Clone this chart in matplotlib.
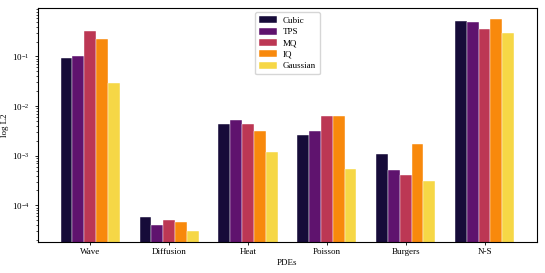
import matplotlib
matplotlib.use('Agg')
import matplotlib.pyplot as plt
import numpy as np

plt.rcParams['font.family'] = ['Liberation Serif', 'DejaVu Serif']
plt.rcParams['mathtext.fontset'] = 'stix'

pdes = ['Wave', 'Diffusion', 'Heat', 'Poisson', 'Burgers', 'N-S']
kernels = ['Cubic', 'TPS', 'MQ', 'IQ', 'Gaussian']

# log L2 error per kernel, one value per PDE
cubic    = [0.095, 5.9e-5, 4.3e-3, 2.6e-3, 1.08e-3, 0.51]
tps      = [0.10,  4.1e-5, 5.2e-3, 3.2e-3, 5.2e-4,  0.49]
mq       = [0.32,  5.0e-5, 4.3e-3, 6.2e-3, 4.1e-4,  0.36]
iq       = [0.22,  4.7e-5, 3.2e-3, 6.3e-3, 1.7e-3,  0.58]
gaussian = [0.029, 3.0e-5, 1.17e-3, 5.5e-4, 3.1e-4, 0.30]
series = [cubic, tps, mq, iq, gaussian]

colors = plt.cm.inferno([0.1, 0.27, 0.5, 0.74, 0.9])

fig = plt.figure(figsize=(5.45, 2.73), dpi=100)
ax = fig.add_axes([0.0697, 0.1136, 0.9153, 0.8574])

x = np.arange(len(pdes))
w = 0.15
for i, (name, vals) in enumerate(zip(kernels, series)):
    ax.bar(x + (i - 2) * w, vals, w, label=name, color=colors[i],
           edgecolor='white', linewidth=0.3)

ax.set_yscale('log')
ax.set_xticks(x)
ax.set_xticklabels(pdes, fontsize=6.5)
ax.tick_params(axis='y', labelsize=6.5, length=2.5, width=0.6)
ax.tick_params(axis='y', which='minor', length=1.5, width=0.5)
ax.tick_params(axis='x', length=2.5, width=0.6, pad=2)
ax.set_xlabel('PDEs', fontsize=6.5, labelpad=2)
ax.set_ylabel('log L2', fontsize=6.5, labelpad=2)
for s in ax.spines.values():
    s.set_linewidth(0.8)

ax.legend(loc='upper center', fontsize=6.5, handlelength=2.0, handleheight=0.8,
          borderpad=0.45, labelspacing=0.3, handletextpad=0.6, framealpha=0.8)

fig.savefig('out.png', dpi=100)
